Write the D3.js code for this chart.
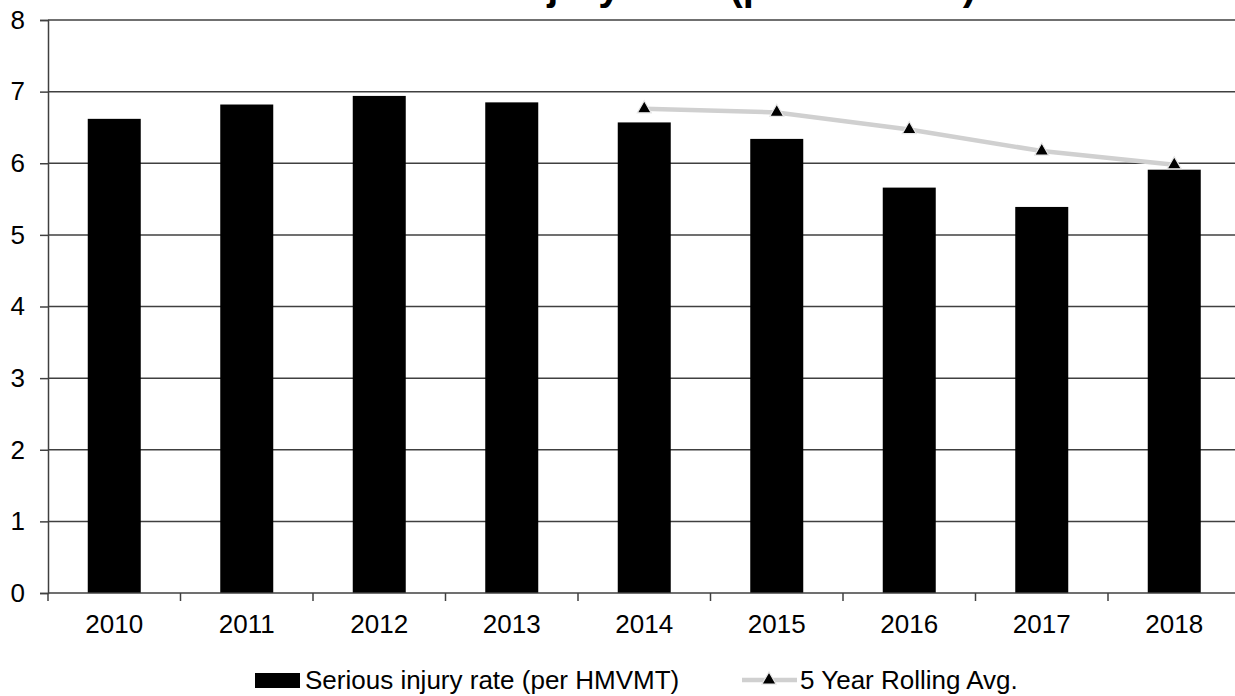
<!DOCTYPE html>
<html>
<head>
<meta charset="utf-8">
<script src="https://cdn.jsdelivr.net/npm/d3@7"></script>
<style>
  html, body { margin: 0; padding: 0; background: #fff; }
  svg { display: block; }
  text { font-family: "Liberation Sans", Arial, sans-serif; }
</style>
</head>
<body>
<svg id="chart" width="1235" height="696"></svg>
<script>
const title = "Serious Injury Rate (per HMVMT)";
const years = ["2010","2011","2012","2013","2014","2015","2016","2017","2018"];
const injuryRate = [6.62, 6.82, 6.94, 6.85, 6.57, 6.34, 5.66, 5.39, 5.91];
const rollingAvg = [null, null, null, null, 6.76, 6.71, 6.47, 6.17, 5.98];
const yTicks = [0, 1, 2, 3, 4, 5, 6, 7, 8];
const seriesNames = ["Serious injury rate (per HMVMT)", "5 Year Rolling Avg."];

(function () {
const svg = d3.select("#chart");
const plotL = 48, plotR = 1240.5, plotT = 20, plotB = 593;

const x = d3.scaleBand().domain(years).range([plotL, plotR]).paddingInner(0.6).paddingOuter(0.3);
const xEdge = d3.scaleLinear().domain([0, years.length]).range([plotL, plotR]);
const y = d3.scaleLinear().domain([0, 8]).range([plotB, plotT]);

// title (clipped at top)
svg.append("text").attr("x", 665).attr("y", 0)
  .attr("text-anchor", "middle").attr("font-size", 40).attr("font-weight", "bold")
  .attr("fill", "#000").text(title);

// gridlines
svg.append("g").selectAll("line").data(yTicks.filter(d => d > 0)).join("line")
  .attr("x1", plotL).attr("x2", 1235)
  .attr("y1", d => y(d)).attr("y2", d => y(d))
  .attr("stroke", "#404040").attr("stroke-width", 1.5);

// y axis
const yAxis = d3.axisLeft(y).tickValues(yTicks).tickSize(8).tickPadding(15).tickFormat(d3.format("d"));
const gy = svg.append("g").attr("transform", `translate(${plotL},0)`).call(yAxis);
gy.select(".domain").attr("stroke", "#404040").attr("stroke-width", 1.5);
gy.selectAll(".tick line").attr("stroke", "#404040").attr("stroke-width", 1.5);
gy.selectAll(".tick text").attr("font-size", 26).attr("fill", "#000")
  .attr("font-family", "'Liberation Sans', Arial, sans-serif");

// bars
svg.append("g").selectAll("rect").data(years).join("rect")
  .attr("x", d => x(d)).attr("width", x.bandwidth())
  .attr("y", (d, i) => y(injuryRate[i]))
  .attr("height", (d, i) => y(0) - y(injuryRate[i]))
  .attr("fill", "#000");

// x axis line and ticks at category boundaries
svg.append("line").attr("x1", plotL).attr("x2", 1235).attr("y1", plotB).attr("y2", plotB)
  .attr("stroke", "#404040").attr("stroke-width", 1.5);
svg.append("g").selectAll("line").data(d3.range(years.length + 1)).join("line")
  .attr("x1", d => xEdge(d)).attr("x2", d => xEdge(d))
  .attr("y1", plotB).attr("y2", plotB + 8)
  .attr("stroke", "#404040").attr("stroke-width", 1.5);
svg.append("g").selectAll("text").data(years).join("text")
  .attr("x", d => x(d) + x.bandwidth() / 2).attr("y", 633)
  .attr("text-anchor", "middle").attr("font-size", 26).attr("fill", "#000").text(d => d);

// rolling avg line
const pts = years.map((d, i) => ({ d, v: rollingAvg[i] })).filter(p => p.v != null);
const line = d3.line().x(p => x(p.d) + x.bandwidth() / 2).y(p => y(p.v));
svg.append("path").datum(pts).attr("d", line)
  .attr("fill", "none").attr("stroke", "#d0d0d0").attr("stroke-width", 4.5);
const tri = d3.symbol().type(d3.symbolTriangle).size(85);
svg.append("g").selectAll("path").data(pts).join("path")
  .attr("transform", p => `translate(${x(p.d) + x.bandwidth() / 2},${y(p.v)})`)
  .attr("d", tri).attr("fill", "#000").attr("stroke", "#e8e8e8").attr("stroke-width", 1.2);

// legend
const lg = svg.append("g");
lg.append("rect").attr("x", 255).attr("y", 673).attr("width", 45).attr("height", 15).attr("fill", "#000");
lg.append("text").attr("x", 305).attr("y", 689).attr("font-size", 26).attr("fill", "#000").text(seriesNames[0]);
lg.append("line").attr("x1", 742).attr("x2", 797).attr("y1", 680).attr("y2", 680)
  .attr("stroke", "#d0d0d0").attr("stroke-width", 4.5);
lg.append("path").attr("transform", "translate(769,680)").attr("d", tri)
  .attr("fill", "#000").attr("stroke", "#e8e8e8").attr("stroke-width", 1.2);
lg.append("text").attr("x", 800).attr("y", 689).attr("font-size", 26).attr("fill", "#000").text(seriesNames[1]);
})();
</script>
</body>
</html>
